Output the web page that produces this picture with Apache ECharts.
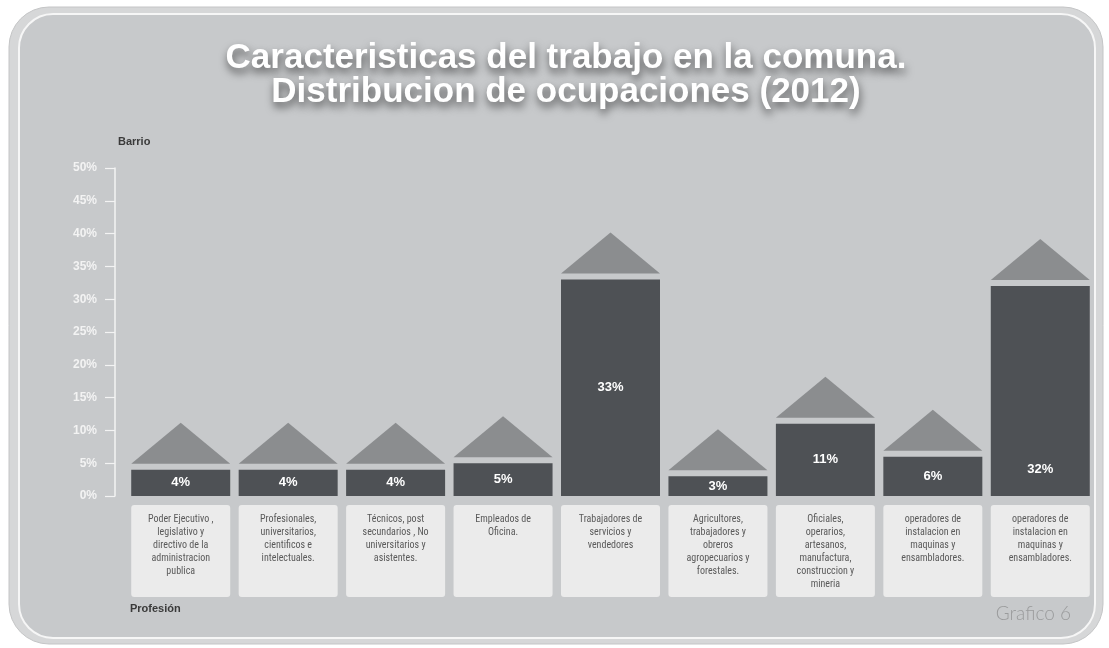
<!DOCTYPE html>
<html>
<head>
<meta charset="utf-8">
<script src="https://cdn.jsdelivr.net/npm/echarts@6/dist/echarts.min.js"></script>
<style>
html,body{margin:0;padding:0;background:#ffffff;}
#chart{width:1109px;height:648px;}
</style>
</head>
<body>
<div id="chart"></div>
<script>
// ---- data ----
const titleLines = ['Caracteristicas del trabajo en la comuna.', 'Distribucion de ocupaciones (2012)'];
const categories = [
  'Poder Ejecutivo ,\nlegislativo y\ndirectivo de la\nadministracion\npublica',
  'Profesionales,\nuniversitarios,\ncientificos e\nintelectuales.',
  'Técnicos, post\nsecundarios , No\nuniversitarios y\nasistentes.',
  'Empleados de\nOficina.',
  'Trabajadores de\nservicios y\nvendedores',
  'Agricultores,\ntrabajadores y\nobreros\nagropecuarios y\nforestales.',
  'Oficiales,\noperarios,\nartesanos,\nmanufactura,\nconstruccion y\nmineria',
  'operadores de\ninstalacion en\nmaquinas y\nensambladores.',
  'operadores de\ninstalacion en\nmaquinas y\nensambladores.'
];
const values = [4, 4, 4, 5, 33, 3, 11, 6, 32];
const yTicks = [0, 5, 10, 15, 20, 25, 30, 35, 40, 45, 50];
const yAxisName = 'Barrio';
const xAxisName = 'Profesión';
const footer = 'Grafico 6';

// ---- chart ----
const chart = echarts.init(document.getElementById('chart'));
const barColor = '#4e5155';
const roofColor = '#8b8d8f';
const BAR_W = 99;

const barData = values.map((v, i) => {
  const item = { value: v };
  if (i === values.length - 1) {
    item.label = { position: 'insideBottom', distance: 20 };
  }
  return item;
});

const titleStyle = {
  fill: '#ffffff', font: 'bold 35px "Liberation Sans", Arial, sans-serif', textAlign: 'center',
  textShadowColor: 'rgba(0,0,0,0.6)', textShadowBlur: 8, textShadowOffsetY: 5, textShadowOffsetX: 1
};

const option = {
  backgroundColor: '#ffffff',
  animation: false,
  graphic: [
    { type: 'rect', z: -10, shape: { x: 9, y: 7, width: 1094, height: 637, r: 40 },
      style: { fill: '#d6d7d8', stroke: '#c4c5c6', lineWidth: 1 } },
    { type: 'rect', z: -9, shape: { x: 19, y: 14, width: 1076, height: 624, r: 34 },
      style: { fill: '#c7c9cb', stroke: '#f6f6f6', lineWidth: 2 } },
    { type: 'text', z: 10, x: 566, y: 41, style: Object.assign({ text: titleLines[0] }, titleStyle) },
    { type: 'text', z: 10, x: 566, y: 75, style: Object.assign({ text: titleLines[1] }, titleStyle) },
    { type: 'text', z: 10, x: 118, y: 136,
      style: { text: yAxisName, fill: '#3a3a3a', font: 'bold 11px "Liberation Sans", Arial, sans-serif' } },
    { type: 'text', z: 10, x: 130, y: 603,
      style: { text: xAxisName, fill: '#3a3a3a', font: 'bold 11px "Liberation Sans", Arial, sans-serif' } },
    { type: 'text', z: 10, x: 1071, y: 604,
      style: { text: footer, fill: '#9a9b9c', font: '300 19px Lato, "Open Sans", sans-serif', textAlign: 'right' } }
  ],
  grid: { left: 127, right: 15, top: 168, bottom: 152 },
  xAxis: {
    type: 'category',
    data: categories,
    axisLine: { show: false },
    axisTick: { show: false },
    axisLabel: {
      interval: 0,
      margin: 9,
      color: '#5a5a5a',
      fontSize: 10,
      fontFamily: '"Liberation Sans Narrow", "Roboto Condensed", "Liberation Sans", Arial, sans-serif',
      lineHeight: 13,
      align: 'center',
      verticalAlign: 'top',
      backgroundColor: '#ebebeb',
      borderRadius: 3,
      width: 91,
      height: 84,
      padding: [8, 4, 0, 4],
      overflow: 'none'
    }
  },
  yAxis: {
    type: 'value',
    min: 0,
    max: 50,
    interval: 5,
    offset: 12,
    axisLine: { show: true, lineStyle: { color: '#f3f3f3', width: 1.5 } },
    axisTick: { show: true, length: 10, lineStyle: { color: '#f3f3f3', width: 1.2 } },
    splitLine: { show: false },
    axisLabel: {
      margin: 18,
      color: '#f3f3f3',
      fontWeight: 'bold',
      fontSize: 12,
      fontFamily: '"Liberation Sans", Arial, sans-serif',
      formatter: v => (yTicks.indexOf(v) >= 0 ? v + '%' : '')
    }
  },
  series: [
    {
      type: 'bar',
      data: barData,
      barWidth: BAR_W,
      itemStyle: { color: barColor },
      label: {
        show: true,
        position: 'inside',
        color: '#ffffff',
        fontWeight: 'bold',
        fontSize: 13,
        fontFamily: '"Liberation Sans", Arial, sans-serif',
        formatter: '{c}%'
      }
    },
    {
      type: 'custom',
      data: values.map((v, i) => [i, v]),
      renderItem: function (params, api) {
        const p = api.coord([api.value(0), api.value(1)]);
        const w = BAR_W;
        const gap = 6;
        const h = 41;
        const baseY = p[1] - gap;
        return {
          type: 'polygon',
          shape: { points: [[p[0] - w / 2, baseY], [p[0] + w / 2, baseY], [p[0], baseY - h]] },
          style: { fill: roofColor }
        };
      },
      z: 3
    }
  ]
};
chart.setOption(option);
</script>
</body>
</html>
